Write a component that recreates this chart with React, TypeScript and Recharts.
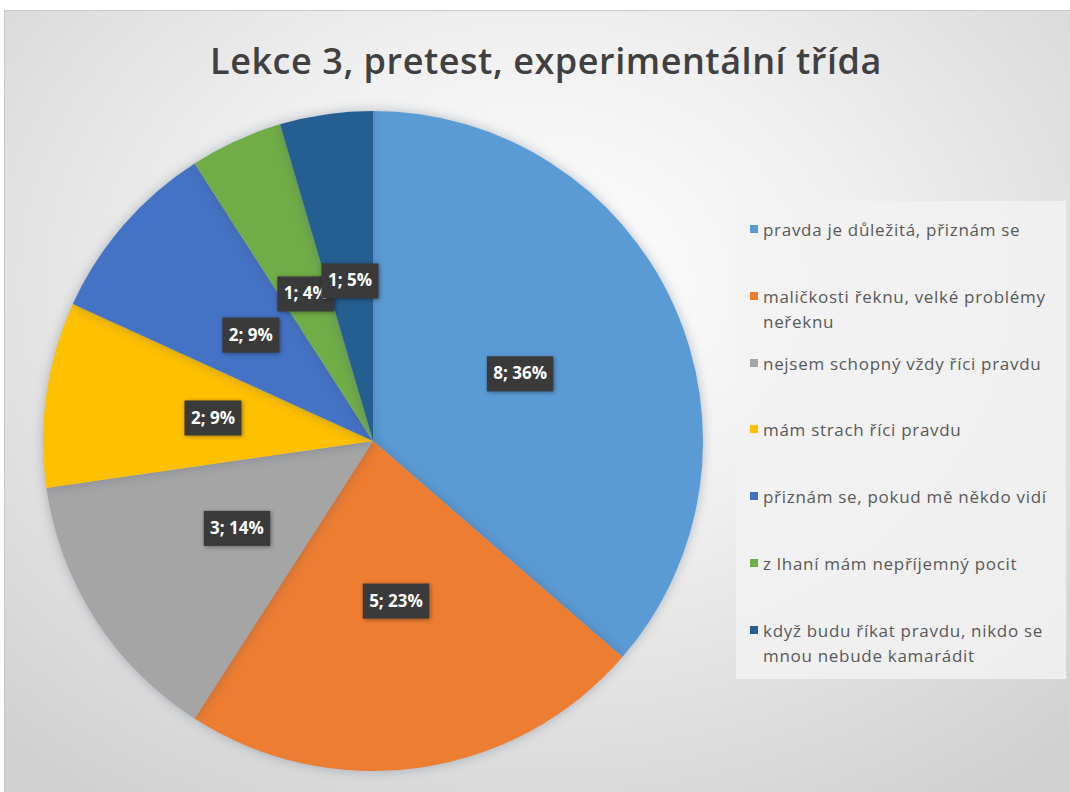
import React from "react";
import { PieChart, Pie, Cell, Legend } from "recharts";

const categories = [
  "pravda je důležitá, přiznám se",
  "maličkosti řeknu, velké problémy neřeknu",
  "nejsem schopný vždy říci pravdu",
  "mám strach říci pravdu",
  "přiznám se, pokud mě někdo vidí",
  "z lhaní mám nepříjemný pocit",
  "když budu říkat pravdu, nikdo se mnou nebude kamarádit",
];
const counts = [8, 5, 3, 2, 2, 1, 1];
const percents = [36, 23, 14, 9, 9, 4, 5];
const colors = ["#5B9BD5", "#ED7D31", "#A5A5A5", "#FFC000", "#4472C4", "#70AD47", "#255E91"];

const data = categories.map((name, i) => ({
  name,
  value: counts[i],
  pct: percents[i],
}));

const RAD = Math.PI / 180;

function renderLabel(props: any) {
  const { cx, cy, midAngle, outerRadius, index } = props;
  const r = outerRadius * 0.49;
  const x = cx + r * Math.cos(-midAngle * RAD);
  const y = cy + r * Math.sin(-midAngle * RAD);
  const text = `${counts[index]}; ${percents[index]}%`;
  const w = text.length * 9.4 + 10;
  const h = 35;
  return (
    <g key={`lbl-${index}`}>
      <rect
        x={x - w / 2}
        y={y - h / 2}
        width={w}
        height={h}
        fill="#3a3a3a"
        style={{ filter: "drop-shadow(1px 1px 2px rgba(0,0,0,0.4))" }}
      />
      <text
        x={x}
        y={y + 1}
        fill="#ffffff"
        textAnchor="middle"
        dominantBaseline="middle"
        fontSize={17}
        fontWeight={700}
        fontFamily="'Open Sans', Lato, sans-serif"
      >
        {text}
      </text>
    </g>
  );
}

function LegendBox() {
  return (
    <div
      style={{
        width: 330,
        height: 478,
        background: "rgba(242,242,242,0.85)",
        boxSizing: "border-box",
        paddingTop: 16,
        paddingLeft: 14,
        fontFamily: "'Open Sans', Lato, sans-serif",
        fontSize: 17,
        letterSpacing: 0.7,
        color: "#595959",
      }}
    >
      {categories.map((c, i) => (
        <div
          key={c}
          style={{
            height: 66.8,
            display: "flex",
            alignItems: "flex-start",
          }}
        >
          <span
            style={{
              width: 8,
              height: 8,
              background: colors[i],
              marginTop: 8,
              marginRight: 5,
              flexShrink: 0,
            }}
          />
          <span style={{ lineHeight: "25px", width: 300 }}>{c}</span>
        </div>
      ))}
    </div>
  );
}

export default function App() {
  return (
    <div
      style={{
        position: "absolute",
        left: 4,
        top: 10,
        width: 1066,
        height: 782,
        background:
          "radial-gradient(ellipse 75% 80% at 50% 35%, #ffffff 0%, #f0f0f0 40%, #d0d0d0 100%)",
        borderTop: "1px solid #c8c8c8",
        borderLeft: "1px solid #c8c8c8",
        boxSizing: "border-box",
      }}
    >
      <style>{`.recharts-pie-sector path { filter: drop-shadow(0 0 6px rgba(60,80,110,0.35)); }`}</style>
      <div
        style={{
          position: "absolute",
          top: 25,
          left: 0,
          width: 1082,
          textAlign: "center",
          fontFamily: "'Open Sans', Lato, sans-serif",
          fontWeight: 600,
          fontSize: 36,
          color: "#404040",
          letterSpacing: 0.55,
        }}
      >
        Lekce 3, pretest, experimentální třída
      </div>
      <PieChart width={1066} height={782} margin={{ top: 0, right: 0, bottom: 0, left: 0 }}>
        <Pie
          data={data}
          dataKey="value"
          nameKey="name"
          cx={368}
          cy={430}
          outerRadius={330}
          startAngle={90}
          endAngle={-270}
          stroke="none"
          label={renderLabel}
          labelLine={false}
          isAnimationActive={false}
        >
          {data.map((d, i) => (
            <Cell key={d.name} fill={colors[i]} />
          ))}
        </Pie>
        <Legend
          content={() => <LegendBox />}
          wrapperStyle={{ position: "absolute", left: 731, top: 190, width: 330 }}
        />
      </PieChart>
    </div>
  );
}
